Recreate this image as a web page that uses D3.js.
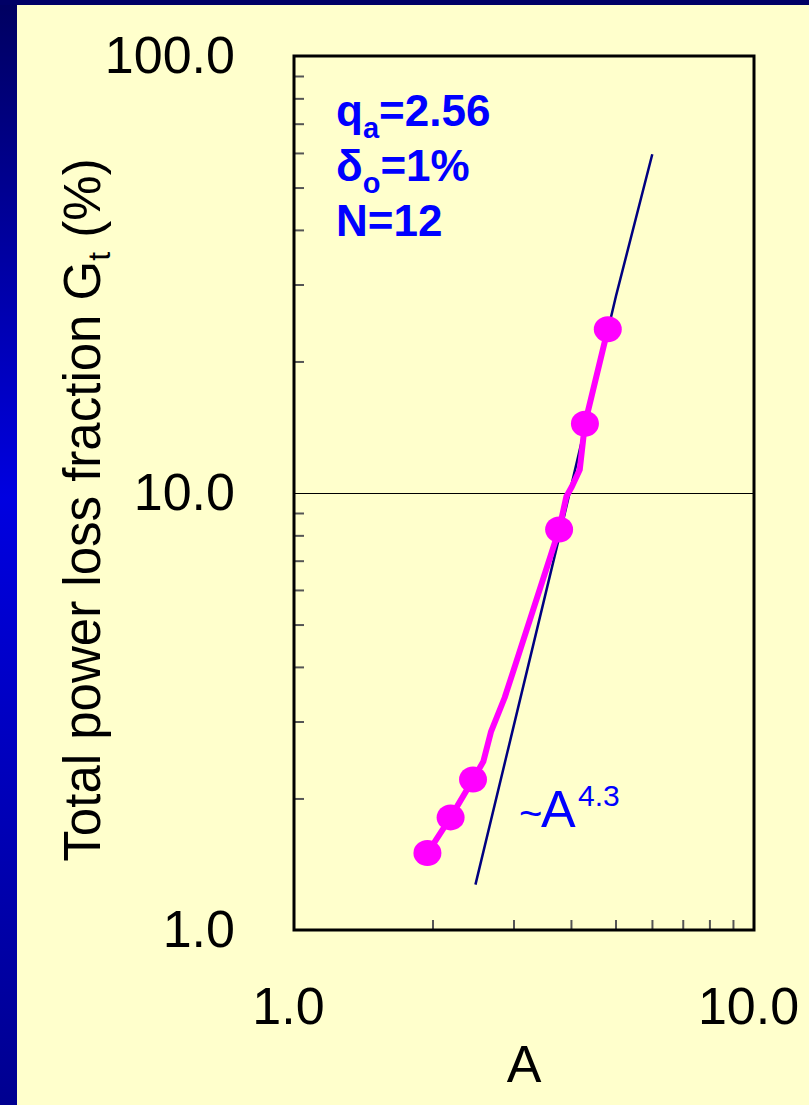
<!DOCTYPE html>
<html>
<head>
<meta charset="utf-8">
<script src="https://cdn.jsdelivr.net/npm/d3@7"></script>
<style>
  body { margin: 0; background: #ffffcc; }
</style>
</head>
<body>
<div id="chart"></div>
<script>
//
// Values
//
// measured points (markers)
const markerA = [1.95, 2.19, 2.45, 3.77, 4.29, 4.81]
const markerG = [1.50, 1.81, 2.21, 8.25, 14.4, 23.7]
// simulated curve through the markers
const curveA = [1.95, 2.19, 2.45, 2.58, 2.68, 2.87, 2.99, 3.77, 3.91, 4.02, 4.18, 4.29, 4.81]
const curveG = [1.50, 1.81, 2.21, 2.43, 2.84, 3.40, 3.88, 8.25, 9.82, 10.35, 11.3, 14.4, 23.7]
// ~A^4.3 scaling line
const fitA = [2.48, 3.73, 5.01, 6.01]
const fitG = [1.27, 7.55, 28.2, 59.6]
// axes
const xTicks = [1, 10]
const yTicks = [1, 10, 100]
const xMinor = [2, 3, 4, 5, 6, 7, 8, 9]
const yMinor = [2, 3, 4, 5, 6, 7, 8, 9, 20, 30, 40, 50, 60, 70, 80, 90]
// parameter box: [main, subscript, rest]
const paramLines = [['q', 'a', '=2.56'], ['δ', 'o', '=1%'], ['N', '', '=12']]

//
// Page setup
//
const W = 809
const H = 1105
const margin = { left: 294, right: 55, top: 56, bottom: 175 }
const width = W - margin.left - margin.right
const height = H - margin.top - margin.bottom
const font = 'Liberation Sans, Arial, sans-serif'

const svg = d3.select('#chart')
  .append('svg')
  .attr('width', W)
  .attr('height', H)
  .style('display', 'block')

const defs = svg.append('defs')
const grad = defs.append('linearGradient')
  .attr('id', 'leftBar')
  .attr('x1', 0).attr('y1', 0).attr('x2', 0).attr('y2', 1)
grad.append('stop').attr('offset', '0%').attr('stop-color', '#000060')
grad.append('stop').attr('offset', '45%').attr('stop-color', '#0000e0')
grad.append('stop').attr('offset', '100%').attr('stop-color', '#000090')

// background and slide border
svg.append('rect').attr('width', W).attr('height', H).attr('fill', '#ffffcc')
svg.append('rect').attr('x', 0).attr('y', 0).attr('width', 17).attr('height', H).attr('fill', 'url(#leftBar)')
svg.append('rect').attr('x', 0).attr('y', 0).attr('width', W).attr('height', 5).attr('fill', '#000066')

const g = svg.append('g')
  .attr('transform', 'translate(' + margin.left + ',' + margin.top + ')')

//
// Scales
//
const x = d3.scaleLog().domain([1, 10]).range([0, width])
const y = d3.scaleLog().domain([1, 100]).range([height, 0])

// horizontal line at G = 10
g.append('line')
  .attr('x1', 0).attr('x2', width)
  .attr('y1', y(10) + 0.5).attr('y2', y(10) + 0.5)
  .attr('stroke', '#000').attr('stroke-width', 1)
  .attr('shape-rendering', 'crispEdges')

//
// Minor ticks, pointing inwards
//
const tickStyle = sel => {
  sel.select('.domain').remove()
  sel.selectAll('line').attr('stroke', '#555').attr('stroke-width', 2)
}
g.append('g')
  .call(d3.axisLeft(y).tickValues(yMinor).tickSize(-10).tickFormat(''))
  .call(tickStyle)
g.append('g')
  .attr('transform', 'translate(0,' + height + ')')
  .call(d3.axisBottom(x).tickValues(xMinor).tickSize(-10).tickFormat(''))
  .call(tickStyle)

//
// Major tick labels
//
const labelStyle = sel => {
  sel.select('.domain').remove()
  sel.selectAll('line').remove()
  sel.attr('font-family', font).attr('font-size', 52)
  sel.selectAll('text').attr('fill', '#000')
}
g.append('g')
  .call(d3.axisLeft(y).tickValues(yTicks).tickSize(0).tickPadding(59).tickFormat(d3.format('.1f')))
  .call(labelStyle)
g.append('g')
  .attr('transform', 'translate(0,' + height + ')')
  .call(d3.axisBottom(x).tickValues(xTicks).tickSize(0).tickPadding(57).tickFormat(d3.format('.1f')))
  .call(labelStyle)
  .selectAll('text').attr('dx', -6)

//
// ~A^4.3 line
//
const fitData = fitA.map((a, i) => ({ a, g: fitG[i] }))
g.append('path')
  .datum(fitData)
  .attr('fill', 'none')
  .attr('stroke', '#000080')
  .attr('stroke-width', 2.5)
  .attr('d', d3.line().x(d => x(d.a)).y(d => y(d.g)))

//
// Magenta curve and markers
//
const curveData = curveA.map((a, i) => ({ a, g: curveG[i] }))
g.append('path')
  .datum(curveData)
  .attr('fill', 'none')
  .attr('stroke', '#ff00ff')
  .attr('stroke-width', 6)
  .attr('stroke-linejoin', 'round')
  .attr('stroke-linecap', 'round')
  .attr('d', d3.line().x(d => x(d.a)).y(d => y(d.g)))

const markerData = markerA.map((a, i) => ({ a, g: markerG[i] }))
g.selectAll('.marker')
  .data(markerData)
  .enter().append('ellipse')
  .attr('class', 'marker')
  .attr('cx', d => x(d.a))
  .attr('cy', d => y(d.g))
  .attr('rx', 14)
  .attr('ry', 13)
  .attr('fill', '#ff00ff')

//
// Plot frame
//
g.append('rect')
  .attr('width', width)
  .attr('height', height)
  .attr('fill', 'none')
  .attr('stroke', '#000')
  .attr('stroke-width', 3)

//
// Parameter text
//
const params = g.append('g')
  .attr('font-family', font)
  .attr('font-weight', 'bold')
  .attr('font-size', 44)
  .attr('fill', '#0000ff')
paramLines.forEach(function (p, i) {
  const t = params.append('text')
    .attr('x', 336 - margin.left)
    .attr('y', 126 - margin.top + i * 55)
  t.append('tspan').text(p[0])
  if (p[1]) {
    t.append('tspan').attr('font-size', 29).attr('dy', 12).text(p[1])
    t.append('tspan').attr('dy', -12).text(p[2])
  } else {
    t.append('tspan').text(p[2])
  }
})

//
// ~A^4.3 label
//
const slope = g.append('g')
  .attr('font-family', font)
  .attr('fill', '#0000ff')
slope.append('text')
  .attr('x', 519 - margin.left)
  .attr('y', 827 - margin.top)
  .attr('font-size', 40)
  .text('~')
slope.append('text')
  .attr('x', 541 - margin.left)
  .attr('y', 827 - margin.top)
  .attr('font-size', 52)
  .text('A')
slope.append('text')
  .attr('x', 578 - margin.left)
  .attr('y', 806 - margin.top)
  .attr('font-size', 30)
  .text('4.3')

//
// Axis titles
//
svg.append('text')
  .attr('x', margin.left + width / 2)
  .attr('y', 1082)
  .attr('text-anchor', 'middle')
  .attr('font-family', font)
  .attr('font-size', 52)
  .attr('fill', '#000')
  .text('A')

const yTitle = svg.append('text')
  .attr('transform', 'translate(100,510) rotate(-90)')
  .attr('text-anchor', 'middle')
  .attr('font-family', font)
  .attr('font-size', 51)
  .attr('fill', '#000')
yTitle.append('tspan').text('Total power loss fraction G')
yTitle.append('tspan').attr('font-size', 32).attr('dy', 10).text('t')
yTitle.append('tspan').attr('dy', -10).text(' (%)')
</script>
</body>
</html>
